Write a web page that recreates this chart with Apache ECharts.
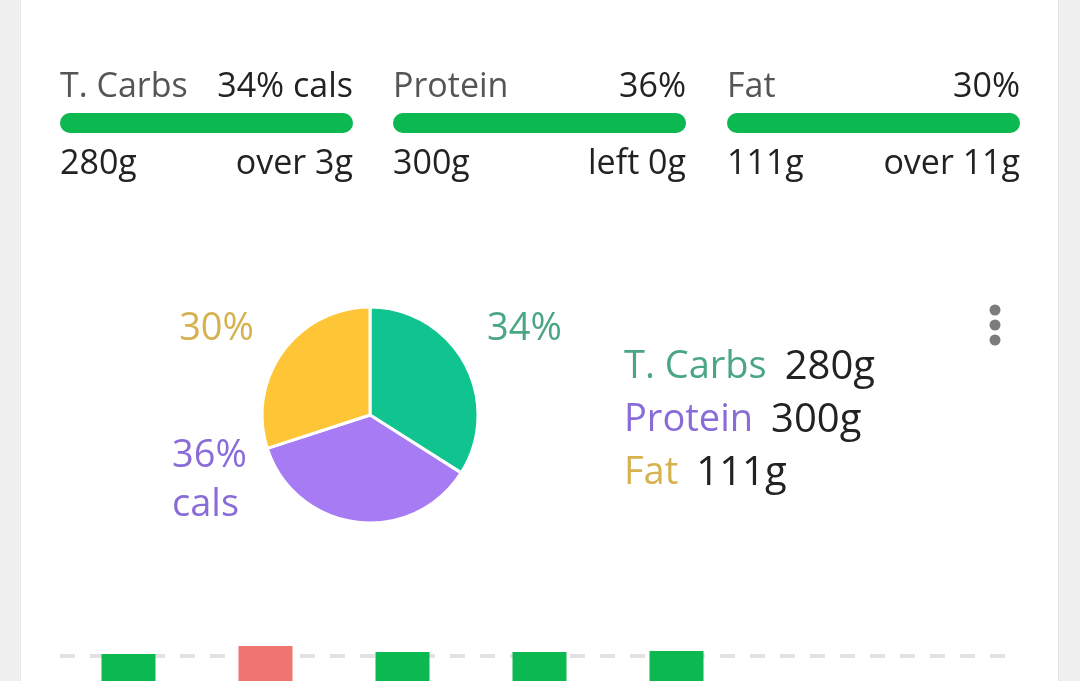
<!DOCTYPE html>
<html>
<head>
<meta charset="utf-8">
<script src="https://cdn.jsdelivr.net/npm/echarts@6/dist/echarts.min.js"></script>
<style>
html,body{margin:0;padding:0;width:1080px;height:681px;background:#f0f0f0;overflow:hidden;}
#card{position:absolute;left:20px;top:0;width:1039px;height:681px;background:#fff;border-right:1px solid #e4e4e4;border-left:1px solid #e8e8e8;box-sizing:border-box;}
#chart{position:absolute;left:0;top:0;width:1080px;height:681px;}
</style>
</head>
<body>
<div id="card"></div>
<div id="chart"></div>
<script>
// ---- data ----
const macros = ['T. Carbs', 'Protein', 'Fat'];
const grams = [280, 300, 111];
const calPct = [34, 36, 30];
const topRight = ['34% cals', '36%', '30%'];
const status = ['over 3g', 'left 0g', 'over 11g'];
const progress = [1, 1, 1];
const days = ['Mon', 'Tue', 'Wed', 'Thu', 'Fri', 'Sat', 'Sun'];
const dayCalories = [2020, 2100, 2040, 2040, 2050, null, null];
const dayOver = [false, true, false, false, false, false, false];
const calorieGoal = 2000;

// ---- styles ----
const FONT = 'Open Sans';
const pieColors = ['#10c48f', '#a77bf3', '#fec637'];
const labelColors = ['#4aa683', '#8a6cd8', '#d5b24f'];
const green = '#0cb850';
const red = '#f07470';

const chart = echarts.init(document.getElementById('chart'), null, {renderer: 'canvas'});

const barLefts = [60, 393, 727];
const barWidth = 293;

const grids = [], xAxes = [], yAxes = [], series = [], graphics = [];
const topFont = `400 34px "${FONT}"`;
macros.forEach((m, i) => {
  grids.push({left: barLefts[i], top: 113, width: barWidth, height: 20});
  xAxes.push({type: 'value', gridIndex: i, min: 0, max: 1, show: false});
  yAxes.push({type: 'category', gridIndex: i, data: [m], show: false});
  series.push({
    type: 'bar', xAxisIndex: i, yAxisIndex: i, data: [progress[i]],
    barWidth: 20, silent: true,
    showBackground: true, backgroundStyle: {color: '#e6e6e6', borderRadius: 10},
    itemStyle: {color: green, borderRadius: 10}
  });
  graphics.push(
    {type: 'text', left: barLefts[i], top: 70, style: {text: m, font: topFont, fill: '#555'}},
    {type: 'text', right: 1080 - barLefts[i] - barWidth, top: 70, style: {text: topRight[i], font: topFont, fill: '#222'}},
    {type: 'text', left: barLefts[i], top: 147, style: {text: grams[i] + 'g', font: topFont, fill: '#222'}},
    {type: 'text', right: 1080 - barLefts[i] - barWidth, top: 147, style: {text: status[i], font: topFont, fill: '#222'}}
  );
});

// bottom weekly bars
grids.push({left: 60, width: 959, top: 631, height: 50});
xAxes.push({type: 'category', gridIndex: 3, data: days, show: false});
yAxes.push({type: 'value', gridIndex: 3, min: 1750, max: 2250, show: false});
series.push({
  type: 'bar', xAxisIndex: 3, yAxisIndex: 3, barWidth: 54, z: 3, silent: true,
  data: dayCalories.map((v, k) => ({value: v, itemStyle: {color: dayOver[k] ? red : green}}))
});
series.push({
  type: 'line', xAxisIndex: 3, yAxisIndex: 3, data: [], z: 1, silent: true,
  markLine: {
    z: 1, silent: true, symbol: 'none', label: {show: false},
    lineStyle: {color: '#e2e2e2', width: 4, type: [15, 15]},
    data: [{yAxis: calorieGoal}]
  }
});

// pie
const labelPos = [
  {x: 487, y: 329, align: 'left'},
  {x: 172, y: 481, align: 'left'},
  {x: 254, y: 329, align: 'right'}
];
series.push({
  type: 'pie', center: [370, 415], radius: 108, startAngle: 90, clockwise: true,
  silent: true,
  data: macros.map((m, i) => ({
    name: m, value: calPct[i],
    itemStyle: {color: pieColors[i]},
    label: {color: labelColors[i]}
  })),
  itemStyle: {borderColor: '#fff', borderWidth: 3},
  label: {
    show: true, position: 'outside',
    formatter: p => p.dataIndex === 1 ? p.value + '%\ncals' : p.value + '%',
    fontFamily: FONT, fontSize: 38, lineHeight: 49
  },
  labelLine: {show: false},
  labelLayout: p => ({x: labelPos[p.dataIndex].x, y: labelPos[p.dataIndex].y, align: labelPos[p.dataIndex].align, verticalAlign: 'middle'})
});

// menu dots
[310, 325, 340].forEach(y => graphics.push({type: 'circle', shape: {cx: 995, cy: y, r: 5.5}, style: {fill: '#7c7c7c'}}));

const rich = {v: {color: '#222', fontSize: 40, fontFamily: FONT, padding: [0, 0, 0, 18]}};
macros.forEach((m, i) => rich['c' + i] = {color: labelColors[i], fontSize: 38, fontFamily: FONT});

chart.setOption({
  animation: false,
  backgroundColor: 'transparent',
  grid: grids, xAxis: xAxes, yAxis: yAxes, series: series,
  legend: {
    orient: 'vertical', left: 614, top: 336, itemGap: 0, icon: 'none', itemWidth: 0, itemHeight: 0,
    selectedMode: false,
    data: macros,
    formatter: name => { const i = macros.indexOf(name); return `{c${i}|${name}}{v|${grams[i]}g}`; },
    textStyle: {rich: rich, fontSize: 38, lineHeight: 53}
  },
  graphic: graphics
});
</script>
</body>
</html>
